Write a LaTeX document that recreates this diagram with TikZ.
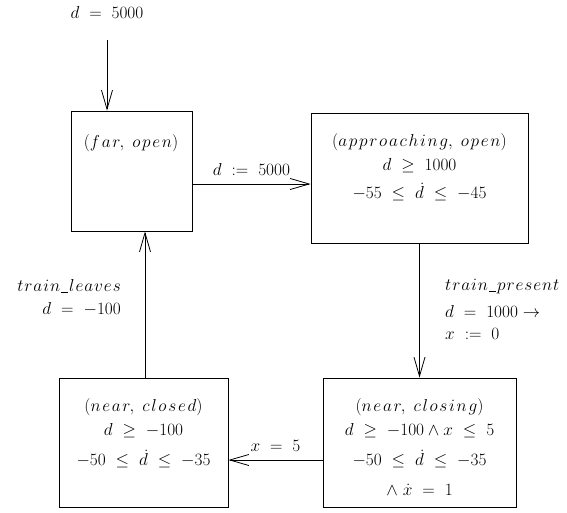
\documentclass[tikz,border=0pt]{standalone}
\usetikzlibrary{arrows.meta}
% letter-spaced italic identifiers in math mode
\makeatletter
\newcommand\spgap{1.8mu}
\newcommand\spw[1]{\spw@#1\@nil}
\def\spw@#1#2\@nil{#1\ifx\relax#2\relax\else\mkern\spgap\spw@#2\@nil\fi}
\makeatother
% short low underscore for identifiers
\newcommand\usc{\mbox{\rule[-0.15ex]{0.42em}{0.09ex}}}
\begin{document}
\begin{tikzpicture}[x=1pt,y=-1pt,
  statebox/.style={draw,line width=0.8pt,inner sep=0pt},
  lbl/.style={inner sep=0pt,font=\fontsize{17}{20}\selectfont},
  arr/.style={line width=0.8pt,-{Straight Barb[length=19pt,width=11pt,line width=0.8pt]}}]
\useasboundingbox (0,0) rectangle (567,512);

% states
\node[statebox,minimum width=121pt,minimum height=120pt] (far)     at (131.5,171)   {};
\node[statebox,minimum width=217pt,minimum height=130pt] (appr)    at (419.5,178)   {};
\node[statebox,minimum width=169pt,minimum height=129pt] (closed)  at (143.5,442.5) {};
\node[statebox,minimum width=193pt,minimum height=129pt] (closing) at (419.5,442.5) {};

% state contents
\node[lbl] (farA) at (131,143) {$(\spw{far},\ \spw{open})$};

\node[lbl] (apA) at (419.5,142) {$(\spw{approaching},\ \spw{open})$};
\node[lbl] (apB) at (419.5,166) {$d\ \geq\ 1000$};
\node[lbl] (apC) at (419.5,192) {$-55\ \leq\ \dot d\ \leq\ -45$};

\node[lbl] (clA) at (143.5,407) {$(\spw{near},\ \spw{closed})$};
\node[lbl] (clB) at (143.5,431) {$d\ \geq\ -100$};
\node[lbl] (clC) at (143.5,459) {$-50\ \leq\ \dot d\ \leq\ -35$};

\node[lbl] (cgA) at (419.5,407) {$(\spw{near},\ \spw{closing})$};
\node[lbl] (cgB) at (419.5,431) {$d\ \geq\ -100 \wedge x\ \leq\ 5$};
\node[lbl] (cgC) at (419.5,459) {$-50\ \leq\ \dot d\ \leq\ -35$};
\node[lbl] (cgD) at (419.5,490) {$\wedge\ \dot x\ =\ 1$};

% transitions
\coordinate (init) at (107,40);
\node[lbl] (initL) at (107,12) {$d\ =\ 5000$};
\draw[arr] (init) -- (far.north -| init);

\draw[arr] ([yshift=-13pt]far.east) -- ([yshift=-6pt]appr.west)
  node[lbl,midway,above=8pt] (l1) {$d\ :=\ 5000$};

\draw[arr] (appr.south) -- (closing.north);
\node[lbl,anchor=west] (l2a) at (445,287)
  {\renewcommand\spgap{1mu}$\spw{train\usc present}$};
\node[lbl,anchor=west] (l2b) at (445,311) {$d\ =\ 1000 \rightarrow$};
\node[lbl,anchor=west] (l2c) at (445,334) {$x\ :=\ 0$};

\draw[arr] ([yshift=-17.5pt]closing.west) -- ([yshift=-17.5pt]closed.east)
  node[lbl,midway,above=8pt] (l3) {$x\ =\ 5$};

\draw[arr] ([xshift=1.5pt]closed.north) -- ([xshift=13.5pt]far.south);
\node[lbl,anchor=east] (l4a) at (121,286)
  {\renewcommand\spgap{1mu}$\spw{train\usc leaves}$};
\node[lbl,anchor=east] (l4b) at (121,309) {$d\ =\ -100$};
\end{tikzpicture}
\end{document}
